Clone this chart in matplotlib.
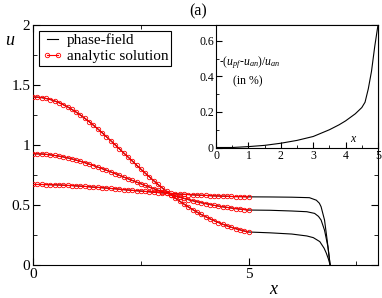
import numpy as np
import matplotlib
matplotlib.use("Agg")
import matplotlib.pyplot as plt
from matplotlib.ticker import MultipleLocator

plt.rcParams['font.family'] = ['Liberation Serif', 'DejaVu Serif']
plt.rcParams['mathtext.fontset'] = 'custom'
plt.rcParams['mathtext.rm'] = 'Liberation Serif'
plt.rcParams['mathtext.it'] = 'Liberation Serif:italic'

# analytic solution, sampled every 0.1 from 0 to 5
x_an = [0.0, 0.1, 0.2, 0.3, 0.4, 0.5, 0.6, 0.7, 0.8, 0.9, 1.0, 1.1, 1.2, 1.3, 1.4, 1.5, 1.6,
        1.7, 1.8, 1.9, 2.0, 2.1, 2.2, 2.3, 2.4, 2.5, 2.6, 2.7, 2.8, 2.9, 3.0, 3.1, 3.2, 3.3,
        3.4, 3.5, 3.6, 3.7, 3.8, 3.9, 4.0, 4.1, 4.2, 4.3, 4.4, 4.5, 4.6, 4.7, 4.8, 4.9, 5.0]
u_an_high = [1.400, 1.399, 1.395, 1.388, 1.379, 1.367, 1.353, 1.336, 1.318, 1.297, 1.274,
             1.249, 1.223, 1.195, 1.165, 1.135, 1.103, 1.070, 1.037, 1.003, 0.969, 0.935,
             0.901, 0.867, 0.833, 0.799, 0.766, 0.734, 0.702, 0.671, 0.641, 0.613, 0.585,
             0.558, 0.532, 0.508, 0.484, 0.462, 0.441, 0.421, 0.403, 0.385, 0.369, 0.354,
             0.340, 0.326, 0.314, 0.303, 0.293, 0.283, 0.275]
u_an_mid = [0.927, 0.926, 0.925, 0.922, 0.918, 0.913, 0.907, 0.901, 0.893, 0.884, 0.874,
            0.864, 0.853, 0.841, 0.829, 0.816, 0.803, 0.790, 0.776, 0.762, 0.748, 0.733,
            0.719, 0.705, 0.691, 0.677, 0.663, 0.649, 0.636, 0.623, 0.611, 0.599, 0.587,
            0.576, 0.565, 0.555, 0.545, 0.536, 0.527, 0.519, 0.512, 0.504, 0.497, 0.491,
            0.485, 0.480, 0.475, 0.470, 0.466, 0.462, 0.458]
u_an_low = [0.671, 0.671, 0.671, 0.670, 0.669, 0.668, 0.667, 0.665, 0.663, 0.662, 0.659,
            0.657, 0.655, 0.652, 0.649, 0.647, 0.644, 0.641, 0.638, 0.635, 0.632, 0.628,
            0.625, 0.622, 0.619, 0.616, 0.613, 0.610, 0.607, 0.604, 0.601, 0.599, 0.596,
            0.594, 0.591, 0.589, 0.587, 0.585, 0.583, 0.581, 0.580, 0.578, 0.576, 0.575,
            0.574, 0.573, 0.571, 0.570, 0.570, 0.569, 0.568]

# phase-field tail beyond x=5 (plateau then drop at the front)
x_tail_high = [5.5, 6.0, 6.35, 6.5, 6.65, 6.75, 6.8, 6.85, 6.89]
u_tail_high = [0.268, 0.258, 0.242, 0.228, 0.195, 0.14, 0.10, 0.05, 0.0]
x_tail_mid = [5.5, 6.0, 6.35, 6.53, 6.62, 6.68, 6.76, 6.84, 6.89]
u_tail_mid = [0.456, 0.450, 0.444, 0.43, 0.405, 0.375, 0.29, 0.15, 0.0]
x_tail_low = [5.5, 6.0, 6.41, 6.57, 6.64, 6.68, 6.76, 6.82, 6.89]
u_tail_low = [0.567, 0.565, 0.561, 0.54, 0.515, 0.486, 0.375, 0.21, 0.0]

# relative error (inset), percent
x_err = [0.0, 0.5, 1.0, 1.5, 2.0, 2.5, 3.0, 3.5, 3.8, 4.0, 4.3, 4.5, 4.6, 4.7, 4.8, 4.9, 5.0]
err = [0.0, 0.0, 0.005, 0.012, 0.024, 0.04, 0.062, 0.1, 0.128, 0.15, 0.19, 0.225, 0.255,
       0.33, 0.43, 0.57, 0.69]

fig = plt.figure(figsize=(3.82, 2.98), dpi=100)
ax = fig.add_axes([33/382, 33/298, 345/382, 240/298])

curves = [(u_an_high, x_tail_high, u_tail_high),
          (u_an_mid, x_tail_mid, u_tail_mid),
          (u_an_low, x_tail_low, u_tail_low)]
for i, (u_an, xt, ut) in enumerate(curves):
    ax.plot(list(x_an) + xt, list(u_an) + ut, color='black', lw=0.8,
            label='phase-field' if i == 0 else None, zorder=2)
for i, (u_an, xt, ut) in enumerate(curves):
    ax.plot(x_an, u_an, color='red', lw=0.8, marker='o', ms=3.2, mfc='none', mew=0.6,
            label='analytic solution' if i == 0 else None, zorder=3)

ax.set_xlim(0, 8)
ax.set_ylim(0, 2)
ax.set_xticks([0, 5])
ax.xaxis.set_minor_locator(MultipleLocator(2.5))
ax.set_yticks([0, 0.5, 1, 1.5, 2])
ax.set_yticklabels(['0', '0.5', '1', '1.5', '2'])
ax.yaxis.set_minor_locator(MultipleLocator(0.25))
ax.tick_params(which='both', direction='in', top=True, right=True, labelsize=11, pad=2)
ax.tick_params(which='major', length=5)
ax.tick_params(which='minor', length=3)
ax.set_xlabel('$x$', fontsize=13)
ax.xaxis.set_label_coords(0.70, -0.065)
ax.text(-0.065, 0.935, '$u$', transform=ax.transAxes, fontsize=13, ha='center', va='center')
fig.text(0.518, 0.962, '(a)', fontsize=11.5, ha='center', va='center')

leg = ax.legend(loc='upper left', bbox_to_anchor=(0.018, 0.977), fontsize=11,
                numpoints=2, handlelength=1.3, handletextpad=0.3, borderpad=0.2,
                borderaxespad=0, labelspacing=0.15, fancybox=False, framealpha=1)
leg.get_frame().set_edgecolor('black')
leg.get_frame().set_linewidth(0.8)

# inset
axi = fig.add_axes([216/382, 150.5/298, 162/382, 122.5/298])
axi.plot(x_err, err, color='black', lw=0.8)
axi.set_xlim(0, 5)
axi.set_ylim(0, 0.69)
axi.set_xticks([0, 1, 2, 3, 4, 5])
axi.xaxis.set_minor_locator(MultipleLocator(0.5))
axi.set_yticks([0, 0.2, 0.4, 0.6])
axi.set_yticklabels(['0', '0.2', '0.4', '0.6'])
axi.yaxis.set_minor_locator(MultipleLocator(0.1))
axi.tick_params(which='both', direction='in', labelsize=8.5, pad=1.5)
axi.tick_params(which='major', length=4)
axi.tick_params(which='minor', length=2)
axi.text(0.1, 0.48, r'-($u_{pf}$-$u_{an}$)/$u_{an}$', fontsize=8.5, ha='left', va='center')
axi.text(0.98, 0.375, '(in %)', fontsize=8.5, ha='center', va='center')
axi.text(4.26, 0.05, '$x$', fontsize=8.5, ha='center', va='center')

fig.savefig('out.png', dpi=100)
